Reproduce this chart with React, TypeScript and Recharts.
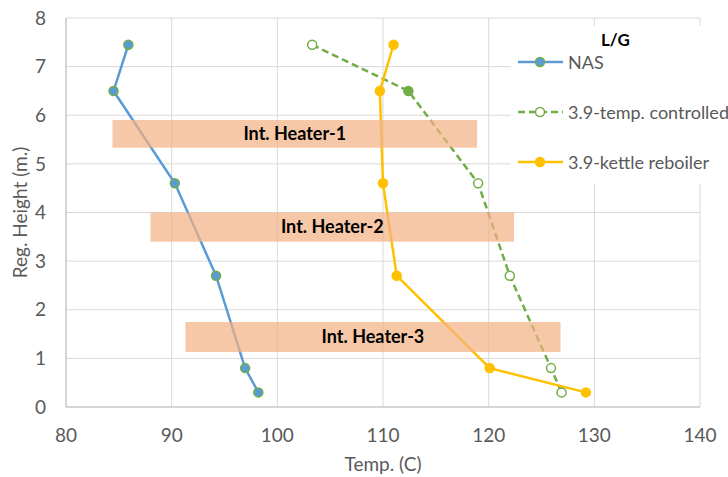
import { LineChart, Line, XAxis, YAxis, CartesianGrid, ReferenceArea } from 'recharts'

// heights (m.) shared by all three profiles
const heights = [7.45, 6.5, 4.6, 2.7, 0.8, 0.3]

const nasTemps = [85.9, 84.5, 90.3, 94.2, 96.95, 98.2]
const tempControlledTemps = [103.3, 112.4, 119.0, 122.0, 125.9, 126.9]
const kettleTemps = [111.0, 109.7, 110.0, 111.3, 120.1, 129.2]

const xTicks = [80, 90, 100, 110, 120, 130, 140]
const yTicks = [0, 1, 2, 3, 4, 5, 6, 7, 8]

// intermediate heater zones: temperature span and height span
const heaterNames = ['Int. Heater-1', 'Int. Heater-2', 'Int. Heater-3']
const heaterX1 = [84.4, 88.0, 91.3]
const heaterX2 = [118.9, 122.4, 126.8]
const heaterY1 = [5.33, 3.4, 1.13]
const heaterY2 = [5.9, 4.0, 1.75]

const toPoints = (temps: number[]) => temps.map((t, i) => ({ x: t, y: heights[i] }))

const BLUE = '#5B9BD5'
const GREEN = '#70AD47'
const ORANGE = '#FFC000'
const FONT = 'Lato, "Open Sans", sans-serif'
const TEXT = '#595959'

const TempControlledDot = (props: any) => {
  const { cx, cy, index } = props
  return (
    <circle
      key={`tc-${index}`}
      cx={cx}
      cy={cy}
      r={4.5}
      fill={index === 1 ? GREEN : '#fff'}
      stroke={GREEN}
      strokeWidth={1.5}
    />
  )
}

const legendItems = [
  { name: 'NAS', color: BLUE, dash: undefined as string | undefined, fill: BLUE, stroke: GREEN },
  { name: '3.9-temp. controlled', color: GREEN, dash: '7 4', fill: '#fff', stroke: GREEN },
  { name: '3.9-kettle reboiler', color: ORANGE, dash: undefined, fill: ORANGE, stroke: ORANGE },
]

function ChartLegend() {
  return (
    <div
      style={{
        position: 'absolute',
        left: 511,
        top: 26,
        width: 217,
        height: 158,
        background: '#fff',
        fontFamily: FONT,
        fontSize: 18,
        color: TEXT,
        overflow: 'hidden',
      }}
    >
      <div style={{ position: 'absolute', left: 90, top: 3, fontWeight: 700, color: '#000', fontSize: 17 }}>L/G</div>
      {legendItems.map((item, i) => (
        <div
          key={item.name}
          style={{ position: 'absolute', left: 6, top: 25 + i * 50, display: 'flex', alignItems: 'center', whiteSpace: 'nowrap' }}
        >
          <svg width={48} height={22}>
            <line x1={1} y1={11} x2={46} y2={11} stroke={item.color} strokeWidth={2.5} strokeDasharray={item.dash} />
            <circle cx={23} cy={11} r={4.5} fill={item.fill} stroke={item.stroke} strokeWidth={1.5} />
          </svg>
          <span style={{ marginLeft: 3 }}>{item.name}</span>
        </div>
      ))}
    </div>
  )
}

export default function App() {
  return (
    <div style={{ position: 'relative', width: 728, height: 477, background: '#fff' }}>
      <style>{`body { margin: 0; }`}</style>
      <LineChart width={728} height={477} margin={{ top: 18, right: 28, left: 0, bottom: 0 }}>
        <CartesianGrid stroke="#D9D9D9" strokeWidth={1} />
        <XAxis
          type="number"
          dataKey="x"
          domain={[80, 140]}
          ticks={xTicks}
          height={70}
          stroke="#BFBFBF"
          tickLine={false}
          tickSize={0}
          tickMargin={22}
          tick={{ fill: TEXT, fontSize: 19, fontFamily: FONT }}
          label={{ value: 'Temp. (C)', position: 'insideBottom', offset: 6, fill: TEXT, fontSize: 19, fontFamily: FONT }}
          allowDuplicatedCategory={false}
        />
        <YAxis
          type="number"
          dataKey="y"
          domain={[0, 8]}
          ticks={yTicks}
          width={66}
          stroke="#BFBFBF"
          tickLine={false}
          tickSize={0}
          tickMargin={20}
          tick={{ fill: TEXT, fontSize: 19, fontFamily: FONT }}
          label={{
            value: 'Reg. Height (m.)',
            angle: -90,
            position: 'insideLeft',
            offset: 20,
            fill: TEXT,
            fontSize: 19,
            fontFamily: FONT,
            style: { textAnchor: 'middle' },
          }}
        />
        <Line
          data={toPoints(nasTemps)}
          dataKey="y"
          name="NAS"
          stroke={BLUE}
          strokeWidth={2.5}
          dot={{ r: 4.5, fill: BLUE, stroke: GREEN, strokeWidth: 1.5 }}
          isAnimationActive={false}
        />
        <Line
          data={toPoints(tempControlledTemps)}
          dataKey="y"
          name="3.9-temp. controlled"
          stroke={GREEN}
          strokeWidth={2.5}
          strokeDasharray="7 4"
          dot={TempControlledDot}
          isAnimationActive={false}
        />
        <Line
          data={toPoints(kettleTemps)}
          dataKey="y"
          name="3.9-kettle reboiler"
          stroke={ORANGE}
          strokeWidth={2.5}
          dot={{ r: 4.5, fill: ORANGE, stroke: ORANGE, strokeWidth: 1.5 }}
          isAnimationActive={false}
        />
        {heaterNames.map((name, i) => (
          <ReferenceArea
            key={name}
            x1={heaterX1[i]}
            x2={heaterX2[i]}
            y1={heaterY1[i]}
            y2={heaterY2[i]}
            fill="#F4B183"
            fillOpacity={0.7}
            stroke="none"
            zIndex={1000}
            label={{ value: name, position: 'center', fill: '#000', fontSize: 18, fontWeight: 700, fontFamily: FONT }}
          />
        ))}
      </LineChart>
      <ChartLegend />
    </div>
  )
}
